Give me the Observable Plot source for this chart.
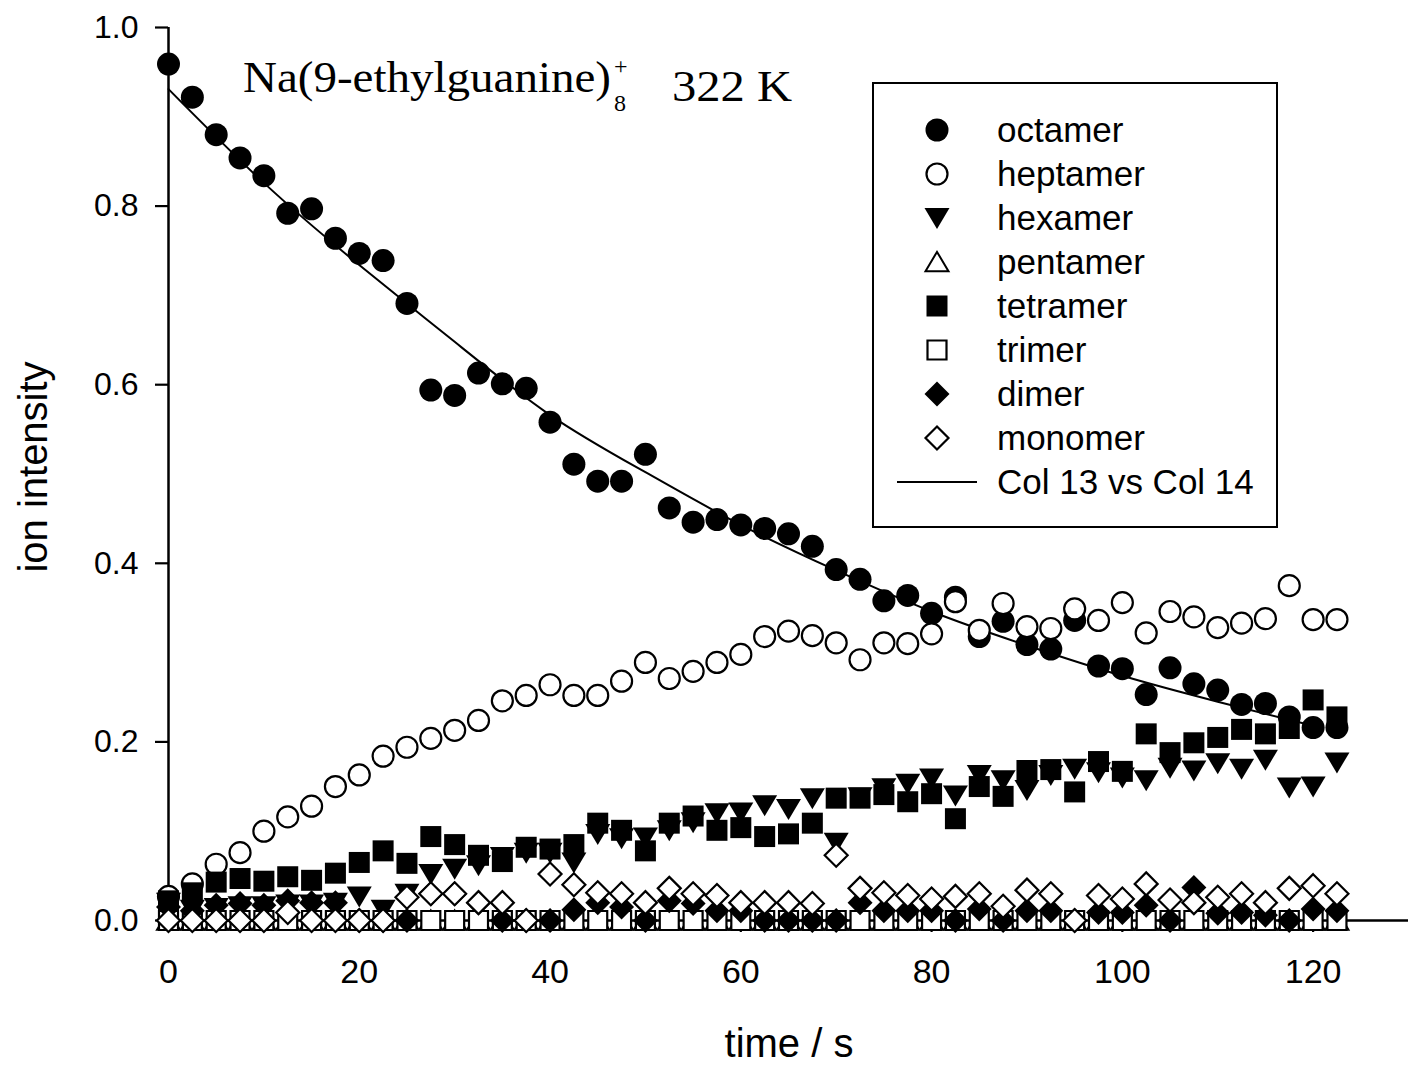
<!DOCTYPE html>
<html>
<head>
<meta charset="utf-8">
<script src="https://cdn.jsdelivr.net/npm/d3@7"></script>
<script src="https://cdn.jsdelivr.net/npm/@observablehq/plot@0.6"></script>
<style>
  html, body { margin: 0; padding: 0; background: white; }
  #chart { position: relative; width: 1409px; height: 1066px; }
</style>
</head>
<body>
<div id="chart"></div>
<script>
// ---- data ----
const time = [0,2.5,5,7.5,10,12.5,15,17.5,20,22.5,25,27.5,30,32.5,35,37.5,40,42.5,45,47.5,
  50,52.5,55,57.5,60,62.5,65,67.5,70,72.5,75,77.5,80,82.5,85,87.5,90,92.5,95,97.5,
  100,102.5,105,107.5,110,112.5,115,117.5,120,122.5];

const octamer = [0.959,0.922,0.880,0.854,0.834,0.792,0.797,0.764,0.747,0.739,0.691,0.594,0.588,0.613,0.601,0.596,0.558,0.511,0.492,0.492,
  0.522,0.462,0.446,0.449,0.443,0.439,0.433,0.419,0.393,0.382,0.358,0.364,0.344,0.362,0.318,0.335,0.309,0.304,0.336,0.285,
  0.282,0.253,0.283,0.265,0.258,0.242,0.243,0.228,0.216,0.216];

const heptamer = [0.027,0.041,0.063,0.076,0.100,0.116,0.128,0.150,0.163,0.184,0.194,0.204,0.213,0.224,0.246,0.252,0.264,0.252,0.252,0.268,
  0.289,0.271,0.279,0.289,0.298,0.318,0.324,0.319,0.311,0.292,0.311,0.310,0.321,0.357,0.325,0.355,0.329,0.327,0.349,0.336,
  0.356,0.322,0.346,0.340,0.328,0.333,0.338,0.375,0.337,0.337];

const hexamer = [0.020,0.012,0.014,0.016,0.016,0.018,0.018,0.020,0.027,0.012,0.030,0.052,0.058,0.062,0.071,0.076,0.076,0.065,0.097,0.092,
  0.093,0.101,0.110,0.120,0.121,0.129,0.125,0.137,0.087,0.138,0.148,0.153,0.159,0.140,0.163,0.157,0.146,0.163,0.170,0.166,
  0.160,0.157,0.171,0.168,0.176,0.170,0.180,0.149,0.150,0.177];

const pentamer = [0,0,0,0,0,0,0,0,0,0,0,0,0,0,0,0,0,0,0,0,
  0,0,0,0,0,0,0,0,0,0,0,0,0,0,0,0,0,0,0,0,
  0,0,0,0,0,0,0,0,0,0];

const tetramer = [0.022,0.031,0.043,0.047,0.044,0.049,0.045,0.053,0.065,0.078,0.064,0.094,0.085,0.073,0.066,0.082,0.080,0.085,0.109,0.101,
  0.078,0.109,0.117,0.101,0.104,0.094,0.097,0.109,0.137,0.137,0.141,0.133,0.142,0.114,0.150,0.139,0.168,0.169,0.144,0.178,
  0.167,0.209,0.188,0.199,0.205,0.214,0.209,0.215,0.247,0.228];

const trimer = [0,0,0,0,0,0,0,0,0,0,0,0,0,0,0,0,0,0,0,0,
  0,0,0,0,0,0,0,0,0,0,0,0,0,0,0,0,0,0,0,0,
  0,0,0,0,0,0,0,0,0,0];

const dimer = [0.015,0.011,0.017,0.019,0.017,0.022,0.020,0.020,0,0,0,0.030,0.030,0.020,0,0,0,0.012,0.020,0.015,
  0,0.022,0.019,0.011,0.011,0,0,0,0,0.020,0.011,0.011,0.011,0,0.013,0,0.011,0.011,0,0.009,
  0.009,0.017,0,0.037,0.008,0.009,0.006,0,0.013,0.011];

const monomer = [0,0,0,0,0,0.009,0,0,0,0,0.026,0.030,0.030,0.020,0.020,0,0.052,0.040,0.031,0.030,
  0.020,0.036,0.030,0.028,0.020,0.020,0.020,0.019,0.073,0.036,0.031,0.028,0.024,0.027,0.030,0.016,0.034,0.030,0,0.028,
  0.024,0.041,0.023,0.020,0.026,0.030,0.020,0.036,0.039,0.030];

// fitted curve "Col 13 vs Col 14"
const fitTime  = [0,10,20,30,40,50,60,70,80,90,100,110,120];
const fitValue = [0.931,0.826,0.734,0.648,0.566,0.502,0.443,0.392,0.346,0.308,0.274,0.245,0.218];

const xTicks = [0,20,40,60,80,100,120];
const yTicks = [0,0.2,0.4,0.6,0.8,1.0];

const seriesNames = ["octamer","heptamer","hexamer","pentamer","tetramer","trimer","dimer","monomer"];
const fitName = "Col 13 vs Col 14";

// ---- symbols ----
const mk = (fn) => ({ draw(ctx, size) { fn(ctx, Math.sqrt(size / Math.PI)); } });
const symSquare = mk((c, r) => { c.moveTo(-r,-r); c.lineTo(r,-r); c.lineTo(r,r); c.lineTo(-r,r); c.closePath(); });
const symDiamond = mk((c, r) => { c.moveTo(0,-r); c.lineTo(r,0); c.lineTo(0,r); c.lineTo(-r,0); c.closePath(); });
const symTriDown = mk((c, r) => { c.moveTo(-r,-0.8*r); c.lineTo(r,-0.8*r); c.lineTo(0,0.88*r); c.closePath(); });
const symTriUp = mk((c, r) => { c.moveTo(-r,0.8*r); c.lineTo(r,0.8*r); c.lineTo(0,-0.88*r); c.closePath(); });
const symCircle = d3.symbolCircle;

const styles = [
  {vals: octamer,  sym: symCircle,  r: 11.5, fill: "black", stroke: "none", sw: 0},
  {vals: heptamer, sym: symCircle,  r: 10.5, fill: "white", stroke: "black", sw: 2.2},
  {vals: hexamer,  sym: symTriDown, r: 12.5, fill: "black", stroke: "none", sw: 0},
  {vals: pentamer, sym: symTriUp,   r: 11.5, fill: "white", stroke: "black", sw: 2},
  {vals: tetramer, sym: symSquare,  r: 10.5, fill: "black", stroke: "none", sw: 0},
  {vals: trimer,   sym: symSquare,  r: 9.5,  fill: "white", stroke: "black", sw: 2.2},
  {vals: dimer,    sym: symDiamond, r: 12.5, fill: "black", stroke: "none", sw: 0},
  {vals: monomer,  sym: symDiamond, r: 11.5, fill: "white", stroke: "black", sw: 2.2}
];

const fitData = fitTime.map((t, i) => ({t, v: fitValue[i]}));

const dotMarks = styles.map(s =>
  Plot.dot(time.map((t, i) => ({t, v: s.vals[i]})), {
    x: "t", y: "v", r: s.r, symbol: s.sym, fill: s.fill,
    stroke: s.stroke, strokeWidth: s.sw
  })
);

const chart = Plot.plot({
  width: 1409, height: 1066,
  marginLeft: 168, marginRight: 1, marginTop: 27, marginBottom: 146,
  style: {fontFamily: "'Liberation Sans', Arial, sans-serif", fontSize: "32px", background: "white", color: "black"},
  x: {domain: [0, 130]},
  y: {domain: [0, 1]},
  marks: [
    Plot.ruleY([0], {stroke: "black", strokeWidth: 2.5}),
    Plot.ruleX([0], {stroke: "black", strokeWidth: 2.5}),
    Plot.axisX({ticks: xTicks, tickSize: 12, tickPadding: 26, fontSize: 34, strokeWidth: 2.2, label: null}),
    Plot.axisY({ticks: yTicks, tickSize: 13, tickPadding: 17, tickFormat: d3.format(".1f"), fontSize: 32, strokeWidth: 2.2, label: null}),
    Plot.line(fitData, {x: "t", y: "v", stroke: "black", strokeWidth: 2, curve: "natural"}),
    ...dotMarks
  ]
});

document.getElementById("chart").appendChild(chart);

// ---- titles, annotation and legend ----
const svg = d3.select(chart);
const sans = "'Liberation Sans', Arial, sans-serif";
const serif = "'Liberation Serif', 'Times New Roman', serif";

svg.append("text").attr("transform", "translate(47,467) rotate(-90)")
  .attr("text-anchor", "middle").attr("font-family", sans).attr("font-size", 40)
  .attr("fill", "black").text("ion intensity");

svg.append("text").attr("x", 789).attr("y", 1057)
  .attr("text-anchor", "middle").attr("font-family", sans).attr("font-size", 40)
  .attr("fill", "black").text("time / s");

const ann = svg.append("g").attr("font-family", serif).attr("fill", "black").attr("text-anchor", "start");
ann.append("text").attr("x", 243).attr("y", 92).attr("font-size", 44)
  .attr("textLength", 368).attr("lengthAdjust", "spacingAndGlyphs").text("Na(9-ethylguanine)");
ann.append("text").attr("x", 614).attr("y", 111).attr("font-size", 24).text("8");
ann.append("text").attr("x", 614).attr("y", 74).attr("font-size", 24).text("+");
ann.append("text").attr("x", 672).attr("y", 101).attr("font-size", 44)
  .attr("textLength", 120).attr("lengthAdjust", "spacingAndGlyphs").text("322 K");

const lg = svg.append("g").attr("text-anchor", "start");
lg.append("rect").attr("x", 873).attr("y", 83).attr("width", 404).attr("height", 444)
  .attr("fill", "white").attr("stroke", "black").attr("stroke-width", 2);
const rowY = (i) => 130 + i * 44;
styles.forEach((s, i) => {
  lg.append("path")
    .attr("transform", `translate(937,${rowY(i)})`)
    .attr("d", d3.symbol(s.sym, Math.PI * s.r * s.r)())
    .attr("fill", s.fill).attr("stroke", s.stroke === "none" ? null : s.stroke)
    .attr("stroke-width", s.sw || null);
  lg.append("text").attr("x", 997).attr("y", rowY(i) + 12)
    .attr("font-family", sans).attr("font-size", 35).attr("fill", "black").text(seriesNames[i]);
});
lg.append("line").attr("x1", 897).attr("x2", 977).attr("y1", rowY(8)).attr("y2", rowY(8))
  .attr("stroke", "black").attr("stroke-width", 2);
lg.append("text").attr("x", 997).attr("y", rowY(8) + 12)
  .attr("font-family", sans).attr("font-size", 35).attr("fill", "black").text(fitName);
</script>
</body>
</html>
